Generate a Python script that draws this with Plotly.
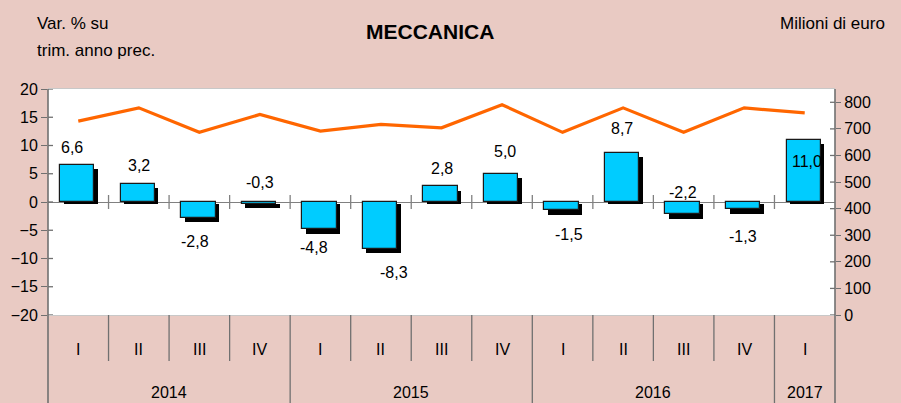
import plotly.graph_objects as go

# ---- data ----
quarters = ["I", "II", "III", "IV", "I", "II", "III", "IV", "I", "II", "III", "IV", "I"]
years = ["2014", "2015", "2016", "2017"]
year_counts = [4, 4, 4, 1]
var_pct = [6.6, 3.2, -2.8, -0.3, -4.8, -8.3, 2.8, 5.0, -1.5, 8.7, -2.2, -1.3, 11.0]
milioni = [729, 779, 687, 754, 692, 717, 704, 791, 687, 779, 687, 779, 760]
left_ticks = [-20, -15, -10, -5, 0, 5, 10, 15, 20]
right_ticks = [0, 100, 200, 300, 400, 500, 600, 700, 800]

# label placement (axis units for y, pixels for x shift)
label_y = [9.7, 6.5, -7.0, 3.5, -8.0, -12.4, 6.0, 9.0, -5.7, 13.0, 1.7, -6.1, 7.2]
label_dx = [-6, 0, -4, 0, -6, 13, 0, 3, 6, -1, -1, -1.5, 2]

FONT = "Liberation Sans Narrow, Arial Narrow, Liberation Sans, Arial, sans-serif"
BG = "#E9CAC3"
W, H = 901, 403
ML, MR, MT, MB = 48, 66, 89, 88
PW, PH = W - ML - MR, H - MT - MB
n = len(quarters)
xs = list(range(n))
ypx = 40.0 / PH  # left-axis units per pixel
xpx = 13.0 / PW  # category units per pixel

NUM_SIZE = 16
HEAD_SIZE = 17
TITLE_SIZE = 21

bar_w = 0.567
bar_off = -0.30
sh_dx = 3.5 * xpx
sh_base = -1.5 * ypx
sh_len = [v - 4.5 * ypx - sh_base for v in var_pct]


def px2x(p):
    return (p - ML) / PW


def px2y(p):
    return (H - MB - p) / PH


fig = go.Figure()
# shadow bars
fig.add_trace(go.Bar(x=xs, y=sh_len, base=[sh_base] * n, width=bar_w, offset=bar_off + sh_dx,
                     marker=dict(color="black", line=dict(width=0)), hoverinfo="skip",
                     showlegend=False))
# main bars
fig.add_trace(go.Bar(x=xs, y=var_pct, width=bar_w, offset=bar_off,
                     marker=dict(color="#00CCFF", line=dict(color="#1a1a1a", width=1.2)),
                     showlegend=False))
# line on right axis
fig.add_trace(go.Scatter(x=xs, y=milioni, mode="lines", yaxis="y2",
                         line=dict(color="#FF6600", width=3.2), showlegend=False))

shapes = []
# crossing ticks (inside part) on left and right axes
for t in left_ticks:
    shapes.append(dict(type="line", xref="paper", xsizemode="pixel", xanchor=0, x0=0, x1=5,
                       yref="y", y0=t, y1=t, line=dict(color="#707070", width=1.3)))
for t in right_ticks:
    shapes.append(dict(type="line", xref="paper", xsizemode="pixel", xanchor=1, x0=0, x1=-5,
                       yref="y2", y0=t, y1=t, line=dict(color="#707070", width=1.3)))
# ticks on zero line at category boundaries
for k in range(n - 1):
    shapes.append(dict(type="line", xref="x", x0=k + 0.5, x1=k + 0.5, yref="y", ysizemode="pixel",
                       yanchor=0, y0=-7, y1=7, line=dict(color="#808080", width=1.3)))
# dividers below plot
year_bounds = []
acc = 0
for c in year_counts[:-1]:
    acc += c
    year_bounds.append(acc)
for k in range(1, n):
    length = -MB if k in year_bounds else -46
    shapes.append(dict(type="line", xref="x", x0=k - 0.5, x1=k - 0.5, yref="paper", ysizemode="pixel",
                       yanchor=0, y0=0, y1=length, line=dict(color="#707070", width=1.3)))
# full-height axis lines
for xa in (0, 1):
    shapes.append(dict(type="line", xref="paper", x0=xa, x1=xa, yref="paper", ysizemode="pixel",
                       yanchor=1, y0=0, y1=-(PH + MB), line=dict(color="#707070", width=1.6)))

annotations = []
for i, v in enumerate(var_pct):
    annotations.append(dict(x=i, y=label_y[i], xref="x", yref="y", xshift=label_dx[i],
                            text=f"{v:.1f}".replace(".", ","), showarrow=False,
                            font=dict(family=FONT, size=NUM_SIZE, color="black"),
                            xanchor="center", yanchor="middle"))
for i, q in enumerate(quarters):
    annotations.append(dict(x=i, y=0, xref="x", yref="paper", yshift=-34, text=q, showarrow=False,
                            font=dict(family=FONT, size=NUM_SIZE, color="black"),
                            xanchor="center", yanchor="middle"))
start = 0
for yname, c in zip(years, year_counts):
    annotations.append(dict(x=start + (c - 1) / 2, y=0, xref="x", yref="paper", yshift=-77,
                            text=yname, showarrow=False,
                            font=dict(family=FONT, size=NUM_SIZE, color="black"),
                            xanchor="center", yanchor="middle"))
    start += c
annotations.append(dict(x=px2x(35), y=px2y(23), xref="paper", yref="paper", text="Var. % su",
                        showarrow=False, xanchor="left", yanchor="middle",
                        font=dict(family=FONT, size=HEAD_SIZE, color="black")))
annotations.append(dict(x=px2x(35), y=px2y(50), xref="paper", yref="paper", text="trim. anno prec.",
                        showarrow=False, xanchor="left", yanchor="middle",
                        font=dict(family=FONT, size=HEAD_SIZE, color="black")))
annotations.append(dict(x=px2x(887), y=px2y(23), xref="paper", yref="paper", text="Milioni di euro",
                        showarrow=False, xanchor="right", yanchor="middle",
                        font=dict(family=FONT, size=HEAD_SIZE, color="black")))
annotations.append(dict(x=px2x(430), y=px2y(31.5), xref="paper", yref="paper", text="<b>MECCANICA</b>",
                        showarrow=False, xanchor="center", yanchor="middle",
                        font=dict(family=FONT, size=TITLE_SIZE, color="black")))

fig.update_layout(
    width=W, height=H,
    margin=dict(l=ML, r=MR, t=MT, b=MB, pad=0, autoexpand=False),
    paper_bgcolor=BG, plot_bgcolor="white",
    barmode="overlay", bargap=0,
    showlegend=False,
    font=dict(family=FONT, size=NUM_SIZE, color="black"),
    xaxis=dict(range=[-0.5, n - 0.5], showticklabels=False, ticks="", showgrid=False, zeroline=False,
               showline=True, mirror=True, linecolor="#C8C8C8", linewidth=1, fixedrange=True,
               automargin=False),
    yaxis=dict(range=[-20, 20], tickvals=left_ticks, ticks="outside", ticklen=6, tickwidth=1.3,
               tickcolor="#707070", showgrid=False, zeroline=True, zerolinecolor="#808080",
               zerolinewidth=1.3, showline=False, tickfont=dict(family=FONT, size=NUM_SIZE),
               automargin=False),
    yaxis2=dict(range=[0, 850], tickvals=right_ticks, overlaying="y", side="right", ticks="outside",
                ticklen=5, tickwidth=1.3, tickcolor="#707070", showgrid=False, zeroline=False,
                showline=False, tickfont=dict(family=FONT, size=NUM_SIZE), automargin=False),
    shapes=shapes,
    annotations=annotations,
)

fig.write_html("out.html", config={"displayModeBar": False},
               post_script="document.body.style.margin='0';document.body.style.overflow='hidden';")
